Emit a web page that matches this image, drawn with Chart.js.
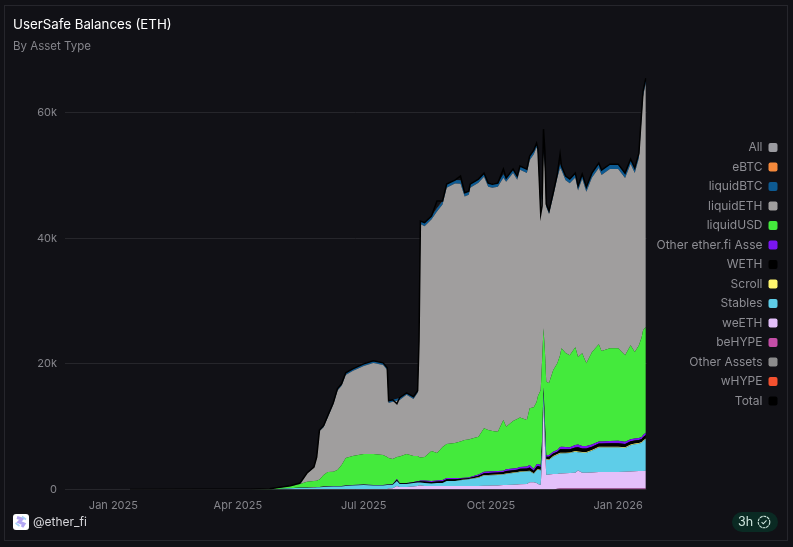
<!DOCTYPE html>
<html>
<head>
<meta charset="utf-8">
<title>UserSafe Balances (ETH)</title>
<script src="https://cdn.jsdelivr.net/npm/chart.js@4"></script>
<style>
  html, body { margin: 0; padding: 0; background: #111116; width: 793px; height: 547px; overflow: hidden; font-family: Inter, sans-serif; }
  .card { position: absolute; left: 4px; top: 5px; width: 782px; height: 534px; border: 1px solid #26262c; }
  canvas { position: absolute; left: 0; top: 0; }
  .logo { position: absolute; left: 13px; top: 514px; width: 16px; height: 16px; }
  .handle { position: absolute; left: 33px; top: 514px; font-size: 12px; line-height: 16px; color: #d6d6da; }
  .badge { position: absolute; left: 732px; top: 512px; width: 46px; height: 20px; border-radius: 10px; background: #0a2a23; color: #cfe6de; font-size: 12.5px; line-height: 20px; }
  .badge span { position: absolute; left: 6px; }
  .badge svg { position: absolute; left: 25px; top: 3px; }
</style>
</head>
<body>
<div class="card"></div>
<canvas id="balances-chart" width="793" height="547"></canvas>
<svg class="logo" viewBox="0 0 16 16"><rect width="16" height="16" rx="3" fill="#fff"/><path d="M4 3.5l5 1.5-3 3 5 2-2 3" fill="none" stroke="#b3a6f2" stroke-width="3"/><path d="M9 2.5l4 3M2.5 9l4 3" stroke="#a9d2f7" stroke-width="1.6"/></svg>
<div class="handle">@ether_fi</div>
<div class="badge"><span>3h</span><svg width="14" height="14" viewBox="0 0 14 14" fill="none" stroke="#cfe6de" stroke-width="1.1"><circle cx="7" cy="7" r="5.8" stroke-dasharray="3 .7"/><path d="M4.6 7.1l1.7 1.7 3.2-3.4"/></svg></div>
<script>
// days since 1 Jan 2025
const DAYS = [
  12, 63, 99, 113, 128, 135, 140, 145, 147, 149,
  152, 155, 159, 162, 165, 168, 173, 181, 188, 195,
  198, 199, 202, 205, 207, 212, 217, 220, 221, 222,
  225, 230, 234, 238, 241, 247, 251, 254, 257, 258,
  264, 268, 271, 274, 278, 282, 284, 289, 292, 294,
  299, 301, 304, 306, 307, 308, 309, 310, 311, 312,
  313, 315, 318, 321, 323, 324, 327, 330, 334, 336,
  339, 342, 346, 351, 353, 359, 365, 370, 374, 377,
  380, 382, 383, 385
];
const TICK_DAYS = [0, 90, 181, 273, 365];
const TICK_LABELS = ["Jan 2025", "Apr 2025", "Jul 2025", "Oct 2025", "Jan 2026"];
const Y_TICKS = [0, 20000, 40000, 60000];
const Y_TICK_LABELS = ["0", "20k", "40k", "60k"];

const W_HYPE = [
  0, 0, 0, 0, 0, 0, 0, 0, 0, 0,
  0, 0, 0, 0, 0, 0, 0, 0, 0, 0,
  0, 0, 0, 0, 0, 0, 0, 0, 0, 0,
  0, 0, 0, 0, 0, 0, 0, 0, 0, 0,
  0, 0, 0, 0, 0, 0, 0, 0, 0, 0,
  0, 0, 0, 0, 0, 0, 0, 0, 0, 0,
  0, 0, 0, 0, 0, 0, 0, 0, 0, 0,
  0, 0, 0, 0, 0, 0, 0, 0, 0, 0,
  0, 0, 0, 0
];
const OTHER_ASSETS = [
  0, 0, 0, 0, 0, 0, 0, 0, 0, 0,
  0, 0, 0, 0, 0, 0, 0, 0, 0, 0,
  0, 0, 0, 0, 0, 0, 0, 0, 0, 0,
  0, 0, 0, 0, 0, 0, 0, 0, 0, 0,
  0, 0, 0, 0, 0, 0, 0, 0, 0, 0,
  0, 0, 0, 0, 0, 0, 0, 0, 0, 0,
  0, 0, 0, 0, 0, 0, 0, 0, 0, 0,
  0, 0, 0, 0, 0, 0, 0, 0, 0, 0,
  0, 0, 0, 0
];
const BE_HYPE = [
  0, 0, 0, 0, 0, 0, 0, 0, 0, 0,
  0, 0, 0, 0, 0, 0, 0, 0, 0, 0,
  0, 0, 0, 0, 0, 0, 0, 0, 0, 0,
  0, 0, 0, 0, 0, 0, 0, 0, 0, 0,
  0, 0, 0, 0, 0, 0, 0, 0, 0, 0,
  0, 0, 0, 0, 0, 0, 0, 0, 0, 0,
  0, 0, 0, 120, 140, 140, 150, 150, 150, 150,
  150, 150, 150, 150, 150, 150, 150, 150, 150, 150,
  150, 150, 150, 150
];
const WE_ETH = [
  0, 0, 0, 0, 50, 80, 80, 80, 80, 80,
  80, 80, 80, 80, 80, 80, 80, 80, 80, 80,
  80, 160, 190, 560, 400, 400, 480, 560, 640, 640,
  560, 560, 560, 560, 560, 560, 560, 560, 560, 560,
  560, 600, 600, 640, 640, 720, 720, 760, 800, 830,
  870, 1140, 1140, 1030, 870, 800, 720, 4690, 13750, 7080,
  2310, 2390, 2460, 2340, 2400, 2400, 2430, 2470, 2520, 2870,
  2520, 2520, 2550, 2630, 2630, 2630, 2630, 2680, 2710, 2740,
  2790, 2790, 2790, 2840
];
const STABLES = [
  0, 0, 0, 0, 130, 180, 180, 210, 260, 260,
  310, 340, 390, 390, 390, 470, 550, 630, 550, 550,
  630, 550, 550, 780, 460, 460, 540, 540, 460, 460,
  460, 380, 460, 460, 780, 780, 930, 1010, 1090, 1120,
  1300, 1620, 1620, 1620, 1670, 1670, 1750, 1860, 1910, 1960,
  1990, 1760, 1350, 1990, 2310, 2310, 2310, 1510, 1510, 2310,
  2440, 2290, 2760, 3080, 3210, 3210, 3180, 3190, 3350, 2920,
  3180, 3180, 3470, 3910, 3910, 3910, 3910, 3770, 4180, 4310,
  4340, 4500, 4740, 5040
];
const SCROLL = [
  0, 0, 0, 0, 0, 10, 10, 10, 10, 10,
  10, 10, 10, 10, 10, 10, 10, 10, 10, 10,
  10, 10, 10, 20, 20, 20, 20, 20, 20, 20,
  20, 20, 20, 20, 20, 20, 20, 20, 20, 20,
  80, 80, 80, 80, 80, 80, 80, 80, 80, 80,
  80, 80, 80, 80, 80, 80, 80, 80, 80, 80,
  100, 100, 100, 100, 100, 100, 100, 100, 100, 100,
  110, 110, 110, 110, 110, 110, 110, 110, 110, 110,
  110, 110, 110, 110
];
const WETH = [
  0, 0, 0, 0, 20, 30, 30, 30, 30, 30,
  50, 50, 50, 50, 50, 50, 50, 50, 50, 50,
  50, 50, 80, 200, 100, 100, 100, 140, 140, 190,
  240, 240, 240, 290, 290, 290, 190, 170, 140, 170,
  260, 300, 320, 320, 320, 300, 390, 370, 370, 420,
  420, 530, 400, 530, 480, 480, 480, 950, 570, 950,
  380, 430, 410, 380, 550, 570, 550, 480, 570, 680,
  570, 570, 520, 520, 520, 550, 570, 530, 520, 480,
  480, 480, 520, 530
];
const OTHER_ETHERFI = [
  0, 0, 0, 0, 10, 20, 20, 20, 20, 20,
  30, 30, 30, 30, 30, 30, 30, 30, 30, 30,
  30, 30, 50, 120, 60, 60, 60, 100, 100, 130,
  160, 160, 160, 190, 190, 190, 130, 120, 100, 120,
  190, 220, 240, 240, 240, 220, 280, 270, 270, 300,
  300, 380, 280, 380, 320, 320, 320, 640, 380, 640,
  260, 290, 270, 260, 360, 380, 360, 320, 380, 460,
  380, 380, 350, 340, 340, 360, 380, 360, 350, 320,
  320, 320, 350, 360
];
const LIQUID_USD = [
  0, 0, 10, 60, 350, 560, 920, 1000, 1000, 1190,
  1830, 2270, 2270, 2540, 3340, 4370, 4610, 4850, 4930, 4770,
  4370, 4210, 3980, 3500, 4210, 4610, 4130, 3980, 3820, 3660,
  3740, 4770, 4370, 5250, 5410, 5570, 5800, 5990, 6040, 6040,
  6010, 6950, 6600, 6410, 6250, 8060, 6770, 7550, 7790, 7870,
  7390, 9060, 9860, 9910, 10810, 11370, 11930, 12720, 9380, 11130,
  11650, 11450, 12990, 13830, 14630, 15690, 14950, 14680, 15580, 13930,
  14790, 13200, 14710, 15470, 14410, 14790, 14740, 13790, 14950, 13800,
  14790, 15900, 16700, 16850
];
const LIQUID_ETH = [
  15, 30, 40, 50, 50, 160, 1350, 2170, 3670, 7670,
  7610, 8700, 10700, 12640, 12640, 13230, 13530, 14010, 14490, 14330,
  13850, 8780, 9100, 8940, 9020, 9420, 9100, 10050, 18160, 37160,
  36750, 36860, 38450, 38610, 40820, 41300, 41060, 38800, 38990, 40020,
  40450, 40020, 38750, 38750, 39020, 38590, 39020, 39530, 38100, 39450,
  39340, 39480, 40270, 40570, 38660, 33140, 27510, 26500, 27870, 28990,
  27880, 26930, 27670, 29520, 29800, 28350, 27530, 27370, 27040, 26510,
  27790, 27310, 27770, 28060, 28010, 28540, 28540, 28220, 28850, 28490,
  29810, 35210, 37280, 38820
];
const LIQUID_BTC = [
  0, 0, 0, 0, 0, 0, 30, 60, 100, 200,
  240, 260, 280, 300, 300, 320, 320, 320, 320, 320,
  320, 320, 320, 320, 320, 320, 320, 320, 320, 480,
  540, 540, 540, 540, 560, 560, 560, 560, 560, 560,
  560, 560, 560, 560, 560, 560, 560, 580, 580, 580,
  600, 620, 620, 640, 640, 600, 500, 400, 300, 300,
  400, 450, 500, 560, 600, 620, 640, 640, 660, 660,
  700, 700, 720, 750, 750, 750, 750, 750, 750, 750,
  750, 750, 750, 750
];
const E_BTC = [
  0, 0, 0, 0, 0, 0, 0, 0, 0, 0,
  0, 0, 0, 0, 0, 20, 40, 40, 40, 40,
  40, 20, 20, 20, 20, 20, 20, 20, 20, 20,
  20, 20, 20, 20, 20, 20, 20, 20, 20, 20,
  20, 20, 20, 20, 20, 20, 20, 20, 20, 20,
  30, 30, 30, 30, 30, 30, 30, 30, 30, 30,
  30, 30, 30, 30, 30, 30, 30, 30, 30, 30,
  30, 30, 30, 30, 30, 30, 30, 30, 30, 30,
  30, 30, 30, 30
];
const TOTAL = [
  15, 30, 50, 110, 610, 1030, 2620, 3580, 5170, 9460,
  10160, 11750, 13810, 16040, 16830, 18580, 19220, 20010, 20490, 20170,
  19380, 14130, 14290, 13650, 14610, 15400, 14770, 15720, 23670, 42750,
  42480, 43550, 45930, 45930, 48630, 49270, 49910, 47250, 47520, 48630,
  49430, 50380, 48790, 48630, 48790, 51020, 49590, 51020, 49910, 51500,
  51020, 53090, 54040, 55150, 54200, 49110, 43860, 45140, 57380, 53880,
  45450, 44340, 47200, 50220, 53400, 51500, 49910, 49430, 50380, 48320,
  50220, 48160, 50380, 51970, 50860, 51810, 51810, 50380, 52610, 51180,
  53560, 60240, 63420, 65490
];

const LEGEND_ORDER = ["All", "eBTC", "liquidBTC", "liquidETH", "liquidUSD", "Other ether.fi Asse", "WETH", "Scroll", "Stables", "weETH", "beHYPE", "Other Assets", "wHYPE", "Total"];

const toPoints = (values) => values.map((y, i) => ({ x: DAYS[i], y: y }));

const areaDataset = (label, values, color, fill) => ({
  label: label,
  data: toPoints(values),
  backgroundColor: color,
  borderColor: color,
  borderWidth: 0,
  pointRadius: 0,
  fill: fill
});

const balancesData = {
  datasets: [
    areaDataset("wHYPE", W_HYPE, "#f4512f", "origin"),
    areaDataset("Other Assets", OTHER_ASSETS, "#8c8c8c", "-1"),
    areaDataset("beHYPE", BE_HYPE, "#c44ea7", "-1"),
    areaDataset("weETH", WE_ETH, "#e4c0fa", "-1"),
    areaDataset("Stables", STABLES, "#5ecde8", "-1"),
    areaDataset("Scroll", SCROLL, "#fff66e", "-1"),
    areaDataset("WETH", WETH, "#000000", "-1"),
    areaDataset("Other ether.fi Asse", OTHER_ETHERFI, "#7a15f0", "-1"),
    areaDataset("liquidUSD", LIQUID_USD, "#44ea3c", "-1"),
    areaDataset("liquidETH", LIQUID_ETH, "#a09e9e", "-1"),
    areaDataset("liquidBTC", LIQUID_BTC, "#0d5a92", "-1"),
    areaDataset("eBTC", E_BTC, "#f5893b", "-1"),
    {
      label: "Total",
      data: toPoints(TOTAL),
      stack: "total",
      order: -1,
      backgroundColor: "#000000",
      borderColor: "#000000",
      borderWidth: 1.5,
      pointRadius: 0,
      fill: false
    },
    { label: "All", data: [], stack: "all", backgroundColor: "#9b9ba0", borderColor: "#9b9ba0", borderWidth: 0, pointRadius: 0, fill: false }
  ]
};

// the legend sits a little below the middle of its box in the reference
const legendNudge = {
  id: "legendNudge",
  afterLayout(chart) {
    chart.legend.top += 8;
    chart.legend.bottom += 8;
  }
};

new Chart(document.getElementById("balances-chart"), {
  type: "line",
  data: balancesData,
  plugins: [legendNudge],
  options: {
    responsive: false,
    animation: false,
    layout: { padding: { left: 13, right: 8, top: 17, bottom: 31.5 } },
    plugins: {
      title: {
        display: true,
        text: "UserSafe Balances (ETH)",
        align: "start",
        color: "#ffffff",
        font: { family: "Inter", size: 13.3, weight: "normal" },
        padding: { top: 0, bottom: 7 }
      },
      subtitle: {
        display: true,
        text: "By Asset Type",
        align: "start",
        color: "#85858b",
        font: { family: "Inter", size: 11.5, weight: "normal" },
        padding: { top: 0, bottom: 15 }
      },
      legend: {
        position: "right",
        rtl: true,
        labels: {
          color: "#8d8d93",
          font: { family: "Inter", size: 12 },
          boxWidth: 9,
          boxHeight: 9,
          padding: 7.5,
          useBorderRadius: true,
          borderRadius: 2,
          sort: (a, b) => LEGEND_ORDER.indexOf(a.text) - LEGEND_ORDER.indexOf(b.text),
          generateLabels: (chart) => Chart.defaults.plugins.legend.labels.generateLabels(chart).map((item) => ({ ...item, lineWidth: 0 }))
        }
      },
      tooltip: { enabled: false }
    },
    scales: {
      x: {
        type: "linear",
        min: -35,
        max: 385.5,
        afterBuildTicks: (axis) => { axis.ticks = TICK_DAYS.map((value) => ({ value: value })); },
        afterFit: (axis) => { axis.height = 26; },
        grid: { display: false },
        border: { display: false },
        ticks: {
          color: "#85858b",
          font: { family: "Inter", size: 11 },
          autoSkip: false,
          maxRotation: 0,
          padding: 2,
          callback: (value) => TICK_LABELS[TICK_DAYS.indexOf(value)]
        }
      },
      y: {
        stacked: true,
        min: 0,
        max: 67000,
        afterBuildTicks: (axis) => { axis.ticks = Y_TICKS.map((value) => ({ value: value })); },
        afterFit: (axis) => { axis.width = 52; },
        grid: { color: "#26262b", drawTicks: false },
        border: { display: false },
        ticks: {
          color: "#85858b",
          font: { family: "Inter", size: 11 },
          autoSkip: false,
          padding: 8,
          callback: (value) => Y_TICK_LABELS[Y_TICKS.indexOf(value)]
        }
      }
    }
  }
});
</script>
</body>
</html>
